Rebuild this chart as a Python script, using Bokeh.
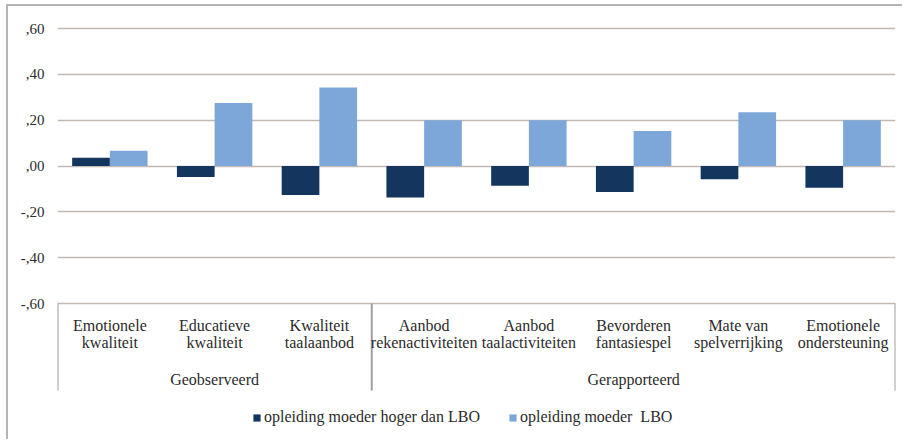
from bokeh.plotting import figure
from bokeh.models import (ColumnDataSource, FactorRange, Range1d, FixedTicker,
                          Legend, LegendItem)
from bokeh.transform import dodge
from bokeh.core.properties import value
from bokeh.embed import file_html
from bokeh.resources import INLINE

# ---- data ----
categories = ["Emotionele\nkwaliteit", "Educatieve\nkwaliteit", "Kwaliteit\ntaalaanbod",
              "Aanbod\nrekenactiviteiten", "Aanbod\ntaalactiviteiten",
              "Bevorderen\nfantasiespel", "Mate van\nspelverrijking",
              "Emotionele\nondersteuning"]
groups = ["Geobserveerd", "Gerapporteerd"]
group_sizes = [3, 5]
hoger_dan_lbo = [0.036, -0.048, -0.126, -0.137, -0.086, -0.113, -0.058, -0.095]
lbo = [0.067, 0.275, 0.343, 0.200, 0.200, 0.153, 0.235, 0.200]
series_names = ["opleiding moeder hoger dan LBO", "opleiding moeder  LBO"]
tick_vals = [-0.6, -0.4, -0.2, 0.0, 0.2, 0.4, 0.6]
tick_labels = ["-,60", "-,40", "-,20", ",00", ",20", ",40", ",60"]

FONT = "Liberation Serif"
DARK = "#14365e"
LIGHT = "#7ca7d8"
GRID = "#c2b9b2"
BOX = "#a0a0a0"
TEXT = "#2b2b2b"

src = ColumnDataSource(dict(cat=categories, hoger=hoger_dan_lbo, lbo=lbo))

p = figure(width=896, height=435, output_backend="svg", toolbar_location=None,
           x_range=FactorRange(*categories, range_padding=0),
           y_range=Range1d(-1.202, 0.622),
           x_axis_location=None,
           min_border_left=49, min_border_right=9, min_border_top=17,
           min_border_bottom=0)
p.outline_line_color = None
p.background_fill_color = "white"
p.border_fill_color = "white"
p.styles = {"border-left": "2px solid #b4b4b4", "border-top": "2px solid #b4b4b4",
            "margin-left": "6px", "margin-top": "4px"}

r1 = p.vbar(x=dodge("cat", -0.18, range=p.x_range), top="hoger", width=0.36,
            source=src, fill_color=DARK, line_color=None)
r2 = p.vbar(x=dodge("cat", 0.18, range=p.x_range), top="lbo", width=0.36,
            source=src, fill_color=LIGHT, line_color=None)

# y axis
p.yaxis.ticker = FixedTicker(ticks=tick_vals)
p.yaxis.major_label_overrides = dict(zip(tick_vals, tick_labels))
p.yaxis.axis_line_color = None
p.yaxis.major_tick_line_color = None
p.yaxis.minor_tick_line_color = None
p.yaxis.major_label_text_font = FONT
p.yaxis.major_label_text_font_size = "15px"
p.yaxis.major_label_text_color = TEXT
p.yaxis.major_label_standoff = 7
p.ygrid.grid_line_color = GRID
p.ygrid.grid_line_width = 1.5
p.xgrid.grid_line_color = None

# category box: vertical separators at group edges
edge_cats = []
edge_offs = []
idx = 0
for n in group_sizes:
    edge_cats.append(categories[idx])
    edge_offs.append(-0.5)
    idx += n
edge_cats.append(categories[-1])
edge_offs.append(0.5)
for e, off in zip(edge_cats, edge_offs):
    p.segment(x0=dodge("edge", off, range=p.x_range), x1=dodge("edge", off, range=p.x_range),
              y0=-0.6, y1=-0.98, source=ColumnDataSource(dict(edge=[e])),
              line_color=BOX, line_width=2)

# category labels
p.text(x="cat", y=-0.731, text="cat", source=src, text_font=value(FONT),
       text_font_size="16px", text_align="center", text_baseline="middle",
       text_color=TEXT, text_line_height=1.0)

# group labels at the middle of each group
mids = []
idx = 0
for n in group_sizes:
    mids.append(categories[idx + n // 2])
    idx += n
gsrc = ColumnDataSource(dict(x=mids, label=groups))
p.text(x="x", y=-0.932, text="label", source=gsrc, text_font=value(FONT),
       text_font_size="16px", text_align="center", text_baseline="middle",
       text_color=TEXT)

legend = Legend(items=[LegendItem(label=series_names[0], renderers=[r1]),
                       LegendItem(label=series_names[1], renderers=[r2])],
                orientation="horizontal", location=(195, 15),
                label_text_font=FONT, label_text_font_size="16px",
                label_text_color=TEXT, glyph_width=9, glyph_height=9,
                label_standoff=3, spacing=28, border_line_color=None,
                background_fill_alpha=0, padding=4, margin=0)
p.add_layout(legend)

open("out.html", "w").write(file_html(p, INLINE))
